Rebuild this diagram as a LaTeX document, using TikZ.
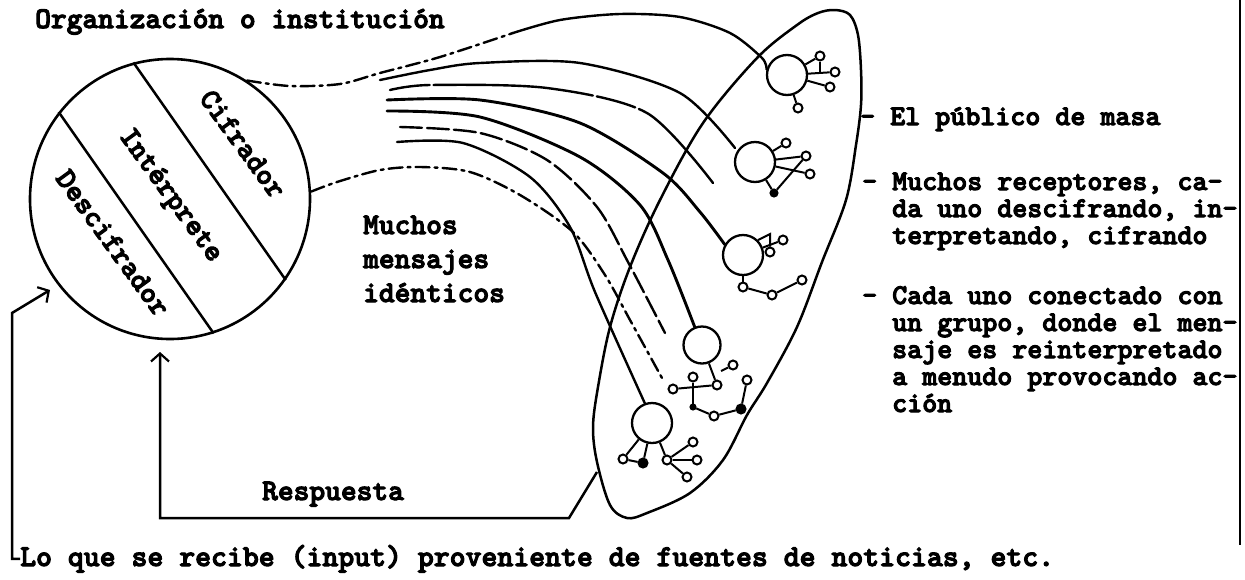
\documentclass[tikz,border=0pt]{standalone}
\usepackage{fontspec}
\newfontfamily\tw{lmmonolt10-bold}[Extension=.otf,FakeBold=3.5]
\usetikzlibrary{arrows.meta}
\begin{document}
\begin{tikzpicture}[x=1pt,y=-1pt,
  ln/.style={line width=2.5pt},
  msg/.style={line width=2.4pt, line cap=round},
  thk/.style={line width=2.9pt, line cap=round},
  dashdot/.style={dash pattern=on 14pt off 5pt on 3pt off 5pt},
  brk/.style={dash pattern=on 22pt off 5pt},
  txt/.style={font=\tw\fontsize{30}{34}\selectfont, inner sep=0pt, anchor=base west},
  btxt/.style={font=\tw\fontsize{30.3}{34}\selectfont, inner sep=0pt, anchor=base west},
  rtxt/.style={font=\tw\fontsize{28.6}{30}\selectfont, inner sep=0pt, anchor=base west},
  lbl/.style={font=\tw\fontsize{30}{34}\selectfont, inner sep=0pt, anchor=center, rotate=-54},
  rec/.style={circle, draw, line width=2.3pt, minimum size=40pt, inner sep=0pt},
  sm/.style={circle, draw, line width=2pt, minimum size=9pt, inner sep=0pt},
  smf/.style={sm, fill},
  net/.style={line width=2pt},
  barb/.style={-{Straight Barb[length=8pt,width=18pt,line width=2.2pt]}}
]
\useasboundingbox (0,0) rectangle (1245,579);
\fill[white] (0,0) rectangle (1245,579);

% sender
\node[circle, draw, line width=2.6pt, minimum size=280pt, inner sep=0pt] (snd) at (170,199) {};
\draw[ln] (snd.105.5) -- (snd.-35.5);
\draw[ln] (snd.142.5) -- (snd.-72.5);
\node[lbl] (cif) at (243,144) {Cifrador};
\node[lbl] (int) at (170,196) {Intérprete};
\node[lbl] (des) at (113,243) {Descifrador};

% texts
\node[txt] (title) at (35,28) {Organización o institución};
\node[txt] (mm1) at (363,234) {Muchos};
\node[txt] (mm2) at (363,268) {mensajes};
\node[txt] (mm3) at (363,302) {idénticos};
\node[rtxt] (pub) at (860,125) {- El público de masa};
\node[rtxt] (r1a) at (862,190) {- Muchos receptores, ca-};
\node[rtxt] (r1b) at (892,217) {da uno descifrando, in-};
\node[rtxt] (r1c) at (892,244) {terpretando, cifrando};
\node[rtxt] (r2a) at (862,304) {- Cada uno conectado con};
\node[rtxt] (r2b) at (892,331) {un grupo, donde el men-};
\node[rtxt] (r2c) at (892,358) {saje es reinterpretado};
\node[rtxt] (r2d) at (892,385) {a menudo provocando ac-};
\node[rtxt] (r2e) at (892,412) {ción};
\node[txt] (resp) at (262,500) {Respuesta};
\node[btxt] (bot) at (20,566) {Lo que se recibe (input) proveniente de fuentes de noticias, etc.};

% right border
\coordinate (bt) at (1240,0);
\coordinate (bb) at (1240,545);
\draw[line width=1.5pt] (bt) -- (bb);

% public ellipse
\draw[ln] plot[smooth cycle, tension=0.55] coordinates {
 (835,10) (850,15) (858,35) (861,70) (861,105) (856,145) (846,200) (822,262) (797,327)
 (767,383) (747,415) (723,460) (690,493) (647,513) (627,518) (610,505) (597,462)
 (593,427) (598,387) (610,327) (630,267) (660,200) (703,123) (757,58) (797,25) (818,13)};

% receivers
\node[rec] (r1) at (787,75) {};
\node[sm] (a1) at (820,56) {};
\node[sm] (a2) at (835,72) {};
\node[sm] (a3) at (830,87) {};
\node[sm] (a4) at (798,108) {};
\draw[net] (r1) -- (a1);
\draw[net] (r1) -- (a2);
\draw[net] (r1) -- (a3);
\draw[net] (r1) -- (a4);
\draw[net] (a1) -- (a1 |- a2);

\node[rec] (r2) at (755,162) {};
\node[sm] (b1) at (786,143) {};
\node[sm] (b2) at (806,156) {};
\node[sm] (b3) at (810,174) {};
\node[smf, minimum size=7pt] (b4) at (774,193) {};
\draw[net] (r2) -- (b1);
\draw[net] (r2) -- (b2);
\draw[net] (r2) -- (b3);
\draw[net] (r2) -- (b4);
\draw[net] (b4) -- (b2);

\node[rec] (r3) at (743,255) {};
\node[sm] (c1) at (783,240) {};
\node[sm] (c2) at (770,252) {};
\node[sm] (c3) at (743,287) {};
\node[sm] (c4) at (772,295) {};
\node[sm] (c5) at (802,280) {};
\coordinate (f1) at (770,234);
\draw[net] (r3.45) -- (f1) -- (c2);
\draw[net] (r3) -- (c1);
\draw[net] (r3) -- (c3);
\draw[net] (c3) -- (c4) -- (c5);

\node[rec, minimum size=37pt] (r4) at (702,345) {};
\node[sm] (d1) at (693,377) {};
\node[sm] (d2) at (717,385) {};
\node[sm] (d3) at (673,389) {};
\node[sm] (d4) at (733,365) {};
\node[sm] (d5) at (747,380) {};
\node[smf] (d6) at (741,409) {};
\node[sm] (d7) at (714,416) {};
\node[smf, minimum size=5pt] (d8) at (693,407) {};
\coordinate (g4) at (721,371);
\draw[net] (r4) -- (d2);
\draw[net] (d3) -- (d2);
\draw[net] (d1) -- (d8);
\draw[net] (d8) -- (d7) -- (d6) -- (d5);
\draw[net] (g4) -- (d4);

\node[rec] (r5) at (652,423) {};
\node[sm] (e1) at (623,459) {};
\node[smf] (e2) at (643,463) {};
\node[sm] (e3) at (667,460) {};
\node[sm] (e4) at (693,442) {};
\node[sm] (e5) at (697,460) {};
\node[sm] (e6) at (687,477) {};
\draw[net] (r5) -- (e1);
\draw[net] (r5) -- (e2);
\draw[net] (e1) -- (e2);
\draw[net] (r5) -- (e3);
\draw[net] (e3) -- (e4);
\draw[net] (e3) -- (e5);
\draw[net] (e3) -- (e6);

% messages
\coordinate (k1) at (513,33);
\coordinate (m2) at (380,80);
\coordinate (n2) at (735,148);
\coordinate (m3) at (390,90);
\coordinate (n3) at (713,183);
\coordinate (m4) at (387,100);
\coordinate (m5) at (387,111);
\coordinate (m6) at (400,127);
\coordinate (n6) at (665,333);
\coordinate (m7) at (397,142);
\coordinate (n8) at (662,378);

\draw[msg, dashdot] plot[smooth] coordinates {(snd.57) (290,86) (340,84) (380,73) (440,57) (k1)};
\draw[msg] plot[smooth] coordinates {(k1) (560,20) (620,14) (680,17) (730,33) (762,58) (r1.165)};
\draw[msg] plot[smooth] coordinates {(m2) (430,70) (480,63) (580,63) (680,93) (n2)};
\draw[msg, dash pattern=on 40pt off 4pt on 160pt off 4pt] plot[smooth] coordinates {(m3) (430,85) (547,88) (647,113) (n3)};
\draw[thk] plot[smooth] coordinates {(m4) (480,100) (580,123) (663,173) (700,212) (r3.150)};
\draw[thk] plot[smooth] coordinates {(m5) (480,117) (580,157) (640,205) (668,260) (r4.112)};
\draw[msg, brk] plot[smooth] coordinates {(m6) (480,133) (547,160) (597,207) (628,262) (n6)};
\draw[msg] plot[smooth] coordinates {(m7) (463,143) (530,177) (570,227) (595,292) (r5.110)};
\draw[msg, dashdot] plot[smooth] coordinates {(snd.3) (337,182) (380,170) (420,167) (470,172) (520,195) (573,232) (605,275) (630,320) (n8)};

% feedback and input
\coordinate (ellR) at (597,472);
\coordinate (rC) at (569,518);
\coordinate (rB) at (160,518);
\coordinate (rT) at (160,352);
\draw[ln, barb] (ellR) -- (rC) -- (rB) -- (rT);
\coordinate (iC) at (12,313);
\coordinate (iT) at (50,290);
\draw[ln, barb] (bot.west) -- (bot.west -| iC) -- (iC) -- (iT);
\end{tikzpicture}
\end{document}
